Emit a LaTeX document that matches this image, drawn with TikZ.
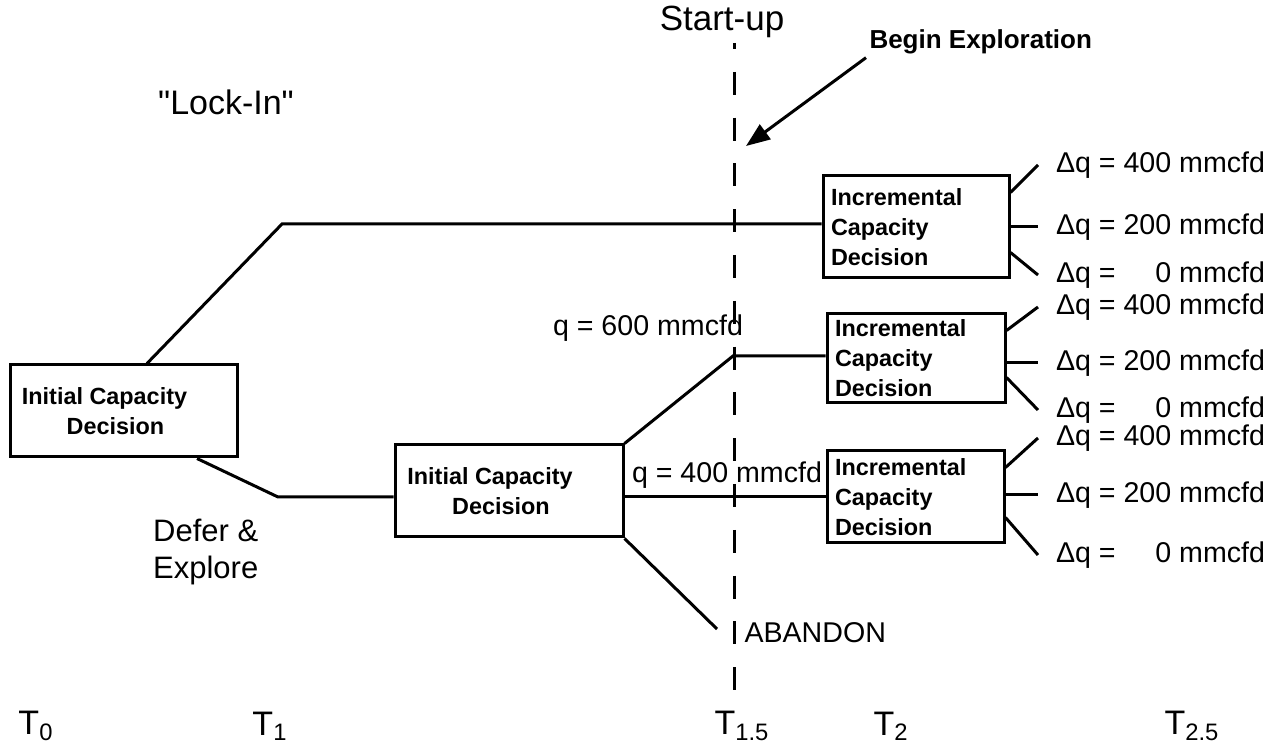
\documentclass[tikz,border=0pt]{standalone}
\usepackage{fontspec}
\setmainfont{Liberation Sans}
\usetikzlibrary{positioning,arrows.meta,calc}

\begin{document}
\begin{tikzpicture}[x=0.5pt, y=-0.5pt, >=Stealth, line width=1.5pt,
  capbox/.style={draw, font=\fontsize{11.7}{15}\selectfont\bfseries, align=center, inner sep=0pt},
  incbox/.style={draw, font=\fontsize{11.7}{15}\selectfont\bfseries, align=left, inner xsep=4pt, inner ysep=0pt},
  qlab/.style={font=\fontsize{14.3}{17}\selectfont, inner sep=1pt},
  dlab/.style={font=\fontsize{14.3}{17}\selectfont, anchor=west, inner sep=0pt, outer sep=9pt},
  tlab/.style={font=\fontsize{17}{20}\selectfont},
  biglab/.style={font=\fontsize{15.5}{18}\selectfont, align=left},
  milestone/.style={dash pattern=on 11.5pt off 11.4pt, dash phase=8.5pt}]
  \useasboundingbox (0,0) rectangle (1276,754);
  % decision boxes
  \node[capbox, minimum width=113.5pt, minimum height=46pt] (icdA) at (123.5,411) {Initial Capacity\hspace*{19pt}\\Decision\hspace*{8pt}};
  \node[capbox, minimum width=114pt, minimum height=46pt] (icdB) at (509,491) {Initial Capacity\hspace*{19pt}\\Decision\hspace*{8pt}};
  \node[incbox, text width=85pt, minimum height=51pt] (inc1) at (916,227) {Incremental\\Capacity\\Decision};
  \node[incbox, text width=81pt, minimum height=44.5pt] (inc2) at (916,358.5) {Incremental\\Capacity\\Decision};
  \node[incbox, text width=80.5pt, minimum height=46pt] (inc3) at (915.5,497) {Incremental\\Capacity\\Decision};
  % labels
  \node[biglab, font=\fontsize{17}{20}\selectfont] (lockin) at (226,102) {\textquotedbl Lock-In\textquotedbl};
  \node[biglab, anchor=west] (defer) at (145,552) {Defer \&\\Explore};
  \node[font=\fontsize{17.5}{20}\selectfont] (startup) at (722,22) {Start-up};
  \node[font=\fontsize{13}{15}\selectfont\bfseries, anchor=west, inner sep=1pt] (begexp) at (866,42) {Begin Exploration};
  \node[qlab] (q600) at (648,328) {q = 600 mmcfd};
  \node[qlab] (q400) at (727,475) {q = 400 mmcfd};
  \node[qlab, anchor=west] (aband) at (741,633) {ABANDON};
  % time axis
  \node[tlab] (t0) at (36,726) {T\textsubscript{0}};
  \node[tlab] (t1) at (270,726) {T\textsubscript{1}};
  \node[tlab] (t15) at (742,726) {T\textsubscript{1.5}};
  \node[tlab] (t2) at (891,726) {T\textsubscript{2}};
  \node[tlab] (t25) at (1192,726) {T\textsubscript{2.5}};
  % start-up marker
  \coordinate (mtop) at (734,43);
  \coordinate (mbot) at (734,700);
  \draw[milestone] (mtop) -- (mbot);
  \coordinate (xtip) at (746,146);
  \draw[-{Triangle[length=12pt,width=9pt]}] (begexp.south west) -- (xtip);
  % tree branches
  \coordinate (lk) at (282,224);
  \draw ($(icdA.north)+(23.5,0)$) -- (lk) -- (lk -| inc1.west);
  \coordinate (dfr) at (278,497);
  \draw ($(icdA.south)+(73.5,0)$) -- (dfr) -- (dfr -| icdB.west);
  \coordinate (up) at (733,356);
  \draw (icdB.north east) -- (up) -- (up -| inc2.west);
  \draw (icdB.east |- inc3.west) -- (inc3.west);
  \coordinate (abd) at (717,629);
  \draw (icdB.south east) -- (abd);
  % increments
  \foreach \b/\ya/\yb/\yc in {inc1/165/227/275, inc2/307/363/410, inc3/438/495/555}{
    \node[dlab] (\b a) at (1038,\ya) {Δq = 400 mmcfd};
    \node[dlab] (\b b) at (1038,\yb) {Δq = 200 mmcfd};
    \node[dlab] (\b c) at (1038,\yc) {Δq = \phantom{40}0 mmcfd};
    \draw ($(\b.north east)+(0,18)$) -- (\b a.west);
    \draw (\b.east |- \b b.west) -- (\b b.west);
    \draw ($(\b.south east)+(0,-27)$) -- (\b c.west);
  }
\end{tikzpicture}
\end{document}
